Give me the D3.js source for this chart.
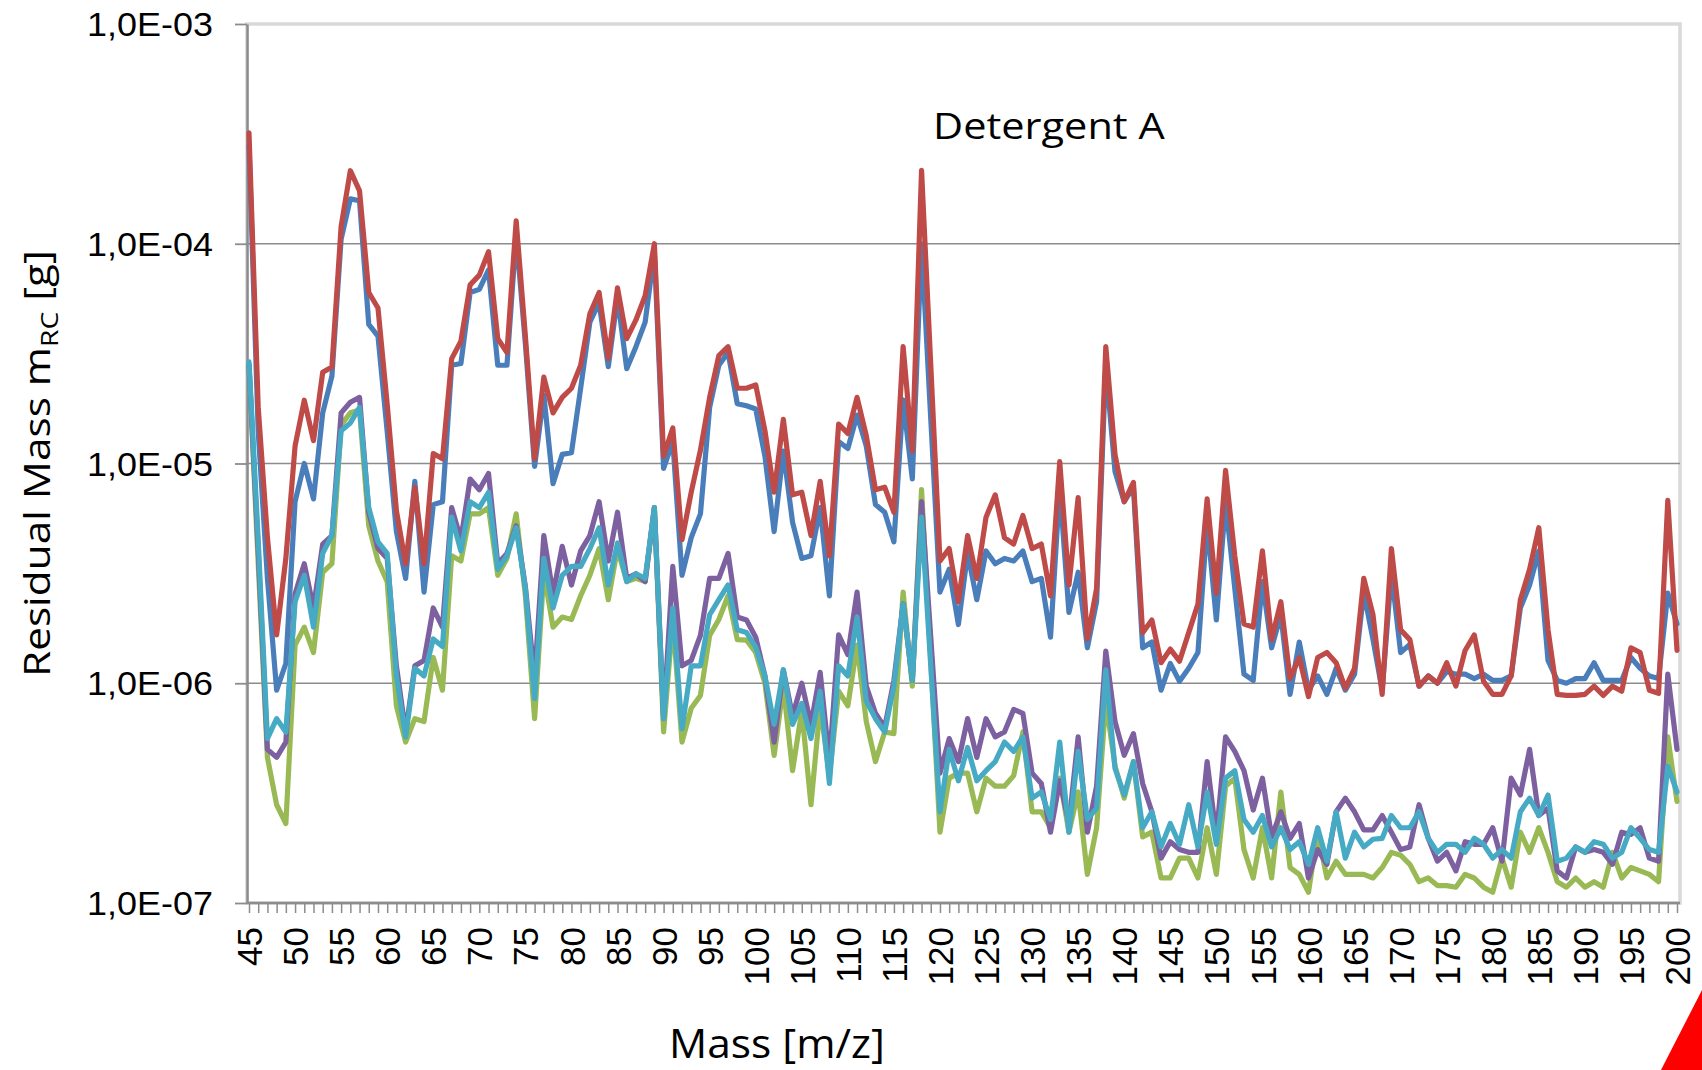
<!DOCTYPE html>
<html><head><meta charset="utf-8">
<script src="https://cdn.jsdelivr.net/npm/d3@7"></script>
<style>html,body{margin:0;padding:0;background:#fff;} svg{display:block}</style>
</head><body>
<svg id="chart" width="1702" height="1070"></svg>
<script>
// ---------------- DATA ----------------
const categories = [
 45,46,47,48,49,50,51,52,53,54, 55,56,57,58,59,60,61,62,63,64,
 65,66,67,68,69,70,71,72,73,74, 75,76,77,78,79,80,81,82,83,84,
 85,86,87,88,89,90,91,92,93,94, 95,96,97,98,99,100,101,102,103,104,
 105,106,107,108,109,110,111,112,113,114, 115,116,117,118,119,120,121,122,123,124,
 125,126,127,128,129,130,131,132,133,134, 135,136,137,138,139,140,141,142,143,144,
 145,146,147,148,149,150,151,152,153,154, 155,156,157,158,159,160,161,162,163,164,
 165,166,167,168,169,170,171,172,173,174, 175,176,177,178,179,180,181,182,183,184,
 185,186,187,188,189,190,191,192,193,194, 195,196,197,198,199,200];

const xTickLabels = [45,50,55,60,65,70,75,80,85,90,95,100,105,110,115,120,125,130,135,140,145,150,155,160,165,170,175,180,185,190,195,200];
const yTickValues = [1e-7,1e-6,1e-5,1e-4,1e-3];
const yTickLabels = ["1,0E-07","1,0E-06","1,0E-05","1,0E-04","1,0E-03"];
const gridValues = [1e-6,1e-5,1e-4];

const seriesBlue = [
 2.8e-4,1.4e-5,3.0e-6,9.3e-7,1.23e-6,6.7e-6,1.0e-5,6.9e-6,1.7e-5,2.5e-5,
 1.05e-4,1.6e-4,1.57e-4,4.3e-5,3.8e-5,1.4e-5,4.9e-6,3.0e-6,8.3e-6,2.6e-6,
 6.5e-6,6.7e-6,2.8e-5,2.85e-5,6.0e-5,6.2e-5,7.6e-5,2.8e-5,2.8e-5,1.1e-4,
 3.5e-5,9.7e-6,2.05e-5,8.1e-6,1.1e-5,1.12e-5,2.2e-5,4.4e-5,5.4e-5,2.76e-5,
 5.7e-5,2.7e-5,3.4e-5,4.4e-5,9.2e-5,9.5e-6,1.26e-5,3.1e-6,4.6e-6,5.9e-6,
 1.8e-5,2.8e-5,3.2e-5,1.87e-5,1.83e-5,1.77e-5,1.08e-5,4.9e-6,1.14e-5,5.4e-6,
 3.7e-6,3.8e-6,6.3e-6,2.5e-6,1.26e-5,1.17e-5,1.66e-5,1.2e-5,6.5e-6,6.0e-6,
 4.4e-6,1.95e-5,8.5e-6,1.0e-4,1.6e-5,2.6e-6,3.3e-6,1.85e-6,3.9e-6,2.4e-6,
 4.0e-6,3.5e-6,3.7e-6,3.6e-6,4.0e-6,2.9e-6,3.0e-6,1.62e-6,7.8e-6,2.1e-6,
 3.2e-6,1.45e-6,2.35e-6,2.8e-5,9.2e-6,6.7e-6,7.8e-6,1.45e-6,1.54e-6,9.3e-7,
 1.23e-6,1.02e-6,1.17e-6,1.38e-6,5.4e-6,1.94e-6,6.7e-6,2.7e-6,1.1e-6,1.03e-6,
 2.9e-6,1.45e-6,2.05e-6,8.9e-7,1.54e-6,9.3e-7,1.08e-6,8.9e-7,1.17e-6,9.3e-7,
 1.1e-6,2.6e-6,1.58e-6,9.3e-7,3.2e-6,1.38e-6,1.5e-6,9.7e-7,1.08e-6,1.0e-6,
 1.13e-6,1.1e-6,1.1e-6,1.05e-6,1.1e-6,1.03e-6,1.03e-6,1.08e-6,2.2e-6,2.8e-6,
 4.0e-6,1.27e-6,1.03e-6,1.0e-6,1.05e-6,1.05e-6,1.24e-6,1.03e-6,1.03e-6,1.03e-6,
 1.31e-6,1.17e-6,1.08e-6,1.05e-6,2.57e-6,1.86e-6];

const seriesRed = [
 3.2e-4,1.8e-5,4.6e-6,1.66e-6,3.7e-6,1.2e-5,1.94e-5,1.27e-5,2.6e-5,2.75e-5,
 1.2e-4,2.15e-4,1.74e-4,6.0e-5,5.1e-5,1.86e-5,6.1e-6,3.5e-6,7.8e-6,3.5e-6,
 1.11e-5,1.05e-5,3.0e-5,3.6e-5,6.5e-5,7.2e-5,9.2e-5,3.7e-5,3.2e-5,1.27e-4,
 3.8e-5,1.05e-5,2.47e-5,1.7e-5,2.0e-5,2.2e-5,2.8e-5,4.8e-5,6.0e-5,3.0e-5,
 6.3e-5,3.7e-5,4.5e-5,5.8e-5,1.0e-4,1.08e-5,1.45e-5,4.5e-6,7.4e-6,1.15e-5,
 2.0e-5,3.1e-5,3.4e-5,2.2e-5,2.2e-5,2.28e-5,1.41e-5,7.4e-6,1.59e-5,7.2e-6,
 7.4e-6,4.7e-6,8.3e-6,3.8e-6,1.51e-5,1.37e-5,2.0e-5,1.34e-5,7.6e-6,7.8e-6,
 6.0e-6,3.4e-5,1.14e-5,2.16e-4,2.8e-5,3.6e-6,4.1e-6,2.35e-6,4.7e-6,3.0e-6,
 5.7e-6,7.2e-6,4.6e-6,4.3e-6,5.8e-6,4.1e-6,4.3e-6,2.5e-6,1.02e-5,2.8e-6,
 7.0e-6,1.59e-6,2.7e-6,3.4e-5,1.1e-5,6.7e-6,8.2e-6,1.7e-6,1.94e-6,1.24e-6,
 1.43e-6,1.26e-6,1.7e-6,2.29e-6,6.9e-6,2.57e-6,9.3e-6,3.8e-6,1.86e-6,1.8e-6,
 4.0e-6,1.58e-6,2.35e-6,1.05e-6,1.31e-6,8.7e-7,1.31e-6,1.38e-6,1.24e-6,9.5e-7,
 1.17e-6,3.0e-6,2.05e-6,8.9e-7,4.1e-6,1.75e-6,1.58e-6,9.7e-7,1.08e-6,1.0e-6,
 1.24e-6,9.7e-7,1.41e-6,1.66e-6,1.02e-6,8.9e-7,8.9e-7,1.08e-6,2.4e-6,3.3e-6,
 5.1e-6,1.75e-6,8.9e-7,8.8e-7,8.8e-7,8.9e-7,9.7e-7,8.8e-7,9.7e-7,9.2e-7,
 1.45e-6,1.38e-6,9.3e-7,9.0e-7,6.8e-6,1.41e-6];

const seriesGreen = [
 2.8e-5,3.5e-6,4.6e-7,2.8e-7,2.3e-7,1.49e-6,1.8e-6,1.38e-6,3.2e-6,3.5e-6,
 1.5e-5,1.7e-5,1.75e-5,5.2e-6,3.6e-6,2.9e-6,7.9e-7,5.4e-7,6.9e-7,6.7e-7,
 1.31e-6,9.3e-7,3.8e-6,3.6e-6,5.9e-6,5.9e-6,6.3e-6,3.1e-6,3.7e-6,5.9e-6,
 2.5e-6,6.9e-7,3.2e-6,1.8e-6,2.0e-6,1.95e-6,2.5e-6,3.1e-6,4.1e-6,2.4e-6,
 4.1e-6,2.9e-6,3.0e-6,2.9e-6,6.3e-6,6.0e-7,1.95e-6,5.4e-7,7.7e-7,8.8e-7,
 1.65e-6,1.95e-6,2.5e-6,1.58e-6,1.57e-6,1.38e-6,1.0e-6,4.7e-7,9.7e-7,4.0e-7,
 7.5e-7,2.8e-7,7.9e-7,3.8e-7,9.2e-7,7.9e-7,1.49e-6,6.7e-7,4.4e-7,6.0e-7,
 5.9e-7,2.6e-6,9.7e-7,7.6e-6,1.27e-6,2.1e-7,3.7e-7,3.9e-7,3.9e-7,2.6e-7,
 3.7e-7,3.4e-7,3.4e-7,3.8e-7,6.0e-7,2.6e-7,2.6e-7,2.2e-7,3.7e-7,2.1e-7,
 3.2e-7,1.35e-7,2.2e-7,8.3e-7,4.2e-7,3.0e-7,4.4e-7,2.0e-7,2.1e-7,1.3e-7,
 1.3e-7,1.6e-7,1.6e-7,1.3e-7,2.2e-7,1.35e-7,3.4e-7,3.7e-7,1.75e-7,1.3e-7,
 2.2e-7,1.3e-7,3.2e-7,1.45e-7,1.35e-7,1.12e-7,2.1e-7,1.3e-7,1.55e-7,1.35e-7,
 1.35e-7,1.35e-7,1.3e-7,1.45e-7,1.7e-7,1.65e-7,1.5e-7,1.25e-7,1.3e-7,1.2e-7,
 1.2e-7,1.18e-7,1.35e-7,1.3e-7,1.18e-7,1.12e-7,1.6e-7,1.18e-7,2.1e-7,1.7e-7,
 2.2e-7,1.7e-7,1.25e-7,1.18e-7,1.3e-7,1.18e-7,1.25e-7,1.18e-7,1.7e-7,1.3e-7,
 1.45e-7,1.4e-7,1.35e-7,1.25e-7,5.7e-7,2.9e-7];

const seriesPurple = [
 2.8e-5,4.0e-6,5.0e-7,4.6e-7,5.4e-7,2.55e-6,3.5e-6,2.2e-6,4.3e-6,4.7e-6,
 1.7e-5,1.9e-5,2.0e-5,6.0e-6,4.1e-6,3.7e-6,1.2e-6,6.0e-7,1.2e-6,1.27e-6,
 2.2e-6,1.8e-6,6.3e-6,4.5e-6,8.5e-6,7.6e-6,9.0e-6,3.5e-6,3.9e-6,5.2e-6,
 2.75e-6,1.05e-6,4.7e-6,2.55e-6,4.2e-6,2.8e-6,4.0e-6,4.7e-6,6.7e-6,3.6e-6,
 6.0e-6,3.0e-6,3.15e-6,2.9e-6,6.3e-6,6.9e-7,3.4e-6,1.2e-6,1.27e-6,1.65e-6,
 3.0e-6,3.0e-6,3.9e-6,2.0e-6,1.94e-6,1.62e-6,1.08e-6,5.4e-7,1.15e-6,7.1e-7,
 1.0e-6,6.5e-7,1.12e-6,4.4e-7,1.66e-6,1.35e-6,2.6e-6,9.7e-7,7.3e-7,6.3e-7,
 1.03e-6,2.3e-6,1.03e-6,6.7e-6,1.62e-6,3.9e-7,5.6e-7,4.4e-7,6.9e-7,4.6e-7,
 6.9e-7,5.7e-7,6.0e-7,7.6e-7,7.3e-7,3.9e-7,3.5e-7,2.1e-7,3.6e-7,2.3e-7,
 5.7e-7,2.1e-7,3.4e-7,1.4e-6,6.7e-7,4.7e-7,5.9e-7,3.5e-7,2.6e-7,1.6e-7,
 1.9e-7,1.75e-7,1.7e-7,1.7e-7,4.4e-7,2.0e-7,5.7e-7,4.9e-7,4.0e-7,2.65e-7,
 3.7e-7,2.0e-7,2.6e-7,1.97e-7,2.3e-7,1.3e-7,1.75e-7,1.5e-7,2.6e-7,3.0e-7,
 2.6e-7,2.15e-7,2.15e-7,2.5e-7,2.1e-7,1.75e-7,1.8e-7,2.8e-7,1.97e-7,1.55e-7,
 1.7e-7,1.4e-7,1.9e-7,1.85e-7,1.85e-7,2.2e-7,1.55e-7,3.7e-7,3.1e-7,5.0e-7,
 2.5e-7,2.7e-7,1.4e-7,1.3e-7,1.8e-7,1.7e-7,1.75e-7,1.7e-7,1.5e-7,2.1e-7,
 2.05e-7,2.2e-7,1.6e-7,1.55e-7,1.1e-6,5.0e-7];

const seriesCyan = [
 2.9e-5,4.5e-6,5.6e-7,6.9e-7,6.0e-7,2.35e-6,3.1e-6,1.8e-6,3.9e-6,4.7e-6,
 1.41e-5,1.53e-5,1.8e-5,6.3e-6,4.4e-6,3.9e-6,1.08e-6,5.7e-7,1.17e-6,1.08e-6,
 1.59e-6,1.47e-6,5.7e-6,4.0e-6,6.7e-6,6.3e-6,7.4e-6,3.3e-6,3.8e-6,5.1e-6,
 2.7e-6,8.5e-7,3.7e-6,2.2e-6,3.1e-6,3.4e-6,3.4e-6,4.1e-6,5.1e-6,2.8e-6,
 4.35e-6,2.9e-6,3.15e-6,3.0e-6,6.3e-6,6.9e-7,2.2e-6,6.2e-7,1.2e-6,1.2e-6,
 2.05e-6,2.4e-6,2.8e-6,1.75e-6,1.7e-6,1.46e-6,1.08e-6,6.5e-7,1.15e-6,6.5e-7,
 8.1e-7,5.6e-7,9.2e-7,3.5e-7,1.2e-6,1.08e-6,2.0e-6,8.3e-7,6.9e-7,6.0e-7,
 9.7e-7,2.3e-6,1.03e-6,5.7e-6,1.2e-6,2.6e-7,5.0e-7,3.6e-7,5.1e-7,3.6e-7,
 4.0e-7,4.4e-7,5.4e-7,4.9e-7,5.7e-7,3.0e-7,3.2e-7,2.4e-7,5.4e-7,2.1e-7,
 4.9e-7,2.4e-7,2.7e-7,1.15e-6,4.1e-7,3.1e-7,4.4e-7,2.2e-7,2.6e-7,1.8e-7,
 2.3e-7,1.85e-7,2.8e-7,1.8e-7,3.2e-7,1.85e-7,3.7e-7,4.0e-7,2.4e-7,2.1e-7,
 2.5e-7,1.8e-7,2.2e-7,1.75e-7,1.9e-7,1.5e-7,2.2e-7,1.55e-7,2.6e-7,1.6e-7,
 2.1e-7,1.8e-7,1.95e-7,1.97e-7,2.5e-7,2.2e-7,2.2e-7,2.6e-7,1.97e-7,1.7e-7,
 1.85e-7,1.85e-7,1.7e-7,1.97e-7,1.85e-7,1.6e-7,1.75e-7,1.6e-7,2.6e-7,3.0e-7,
 2.5e-7,3.1e-7,1.55e-7,1.6e-7,1.8e-7,1.7e-7,1.9e-7,1.85e-7,1.6e-7,1.7e-7,
 2.2e-7,1.97e-7,1.75e-7,1.7e-7,4.2e-7,3.2e-7];

const seriesList = [seriesBlue, seriesRed, seriesGreen, seriesPurple, seriesCyan];
const seriesColors = ["#4A7EBB", "#BE4B48", "#98B954", "#7D60A0", "#46AAC5"];

const titleText = "Detergent A";
const xAxisTitle = "Mass [m/z]";

// ---------------- DRAW ----------------
const svg = d3.select("#chart");
svg.append("rect").attr("width", 1702).attr("height", 1070).attr("fill", "#fff");

const plot = {left: 247, right: 1680, top: 24, bottom: 903};
const x = d3.scaleLinear().domain([45, 200]).range([249, 1677]);
const y = d3.scaleLog().domain([1e-7, 1e-3]).range([plot.bottom, plot.top]);

// plot area border (light)
svg.append("rect")
  .attr("x", plot.left).attr("y", plot.top)
  .attr("width", plot.right - plot.left).attr("height", plot.bottom - plot.top)
  .attr("fill", "none").attr("stroke", "#D9D9D9").attr("stroke-width", 3.5);

// gridlines
svg.append("g").selectAll("line").data(gridValues).join("line")
  .attr("x1", plot.left).attr("x2", plot.right)
  .attr("y1", d => y(d)).attr("y2", d => y(d))
  .attr("stroke", "#8C8C8C").attr("stroke-width", 1.6);

// y axis
const yAxis = svg.append("g").attr("transform", `translate(${plot.left},0)`)
  .call(d3.axisLeft(y).tickValues(yTickValues)
        .tickFormat((d, i) => yTickLabels[i]).tickSize(12).tickSizeOuter(0));
yAxis.select(".domain").attr("stroke", "#8C8C8C").attr("stroke-width", 2.5);
yAxis.selectAll(".tick line").attr("stroke", "#8C8C8C").attr("stroke-width", 1.8);
yAxis.selectAll(".tick text")
  .attr("x", 0).attr("dy", "0.35em")
  .style("font-family", "'Liberation Sans', Arial, sans-serif")
  .style("font-size", "33px").attr("fill", "#000")
  .style("text-anchor", "end")
  .each(function () {
    const w = this.getBBox().width;
    d3.select(this).attr("transform", `translate(-34,0) scale(${126 / w},1)`);
  });

// x axis
const labelSet = new Set(xTickLabels);
const xAxis = svg.append("g").attr("transform", `translate(0,${plot.bottom})`)
  .call(d3.axisBottom(x).tickValues(categories)
        .tickFormat(d => labelSet.has(d) ? String(d) : "").tickSize(10).tickSizeOuter(0));
xAxis.select(".domain").attr("stroke", "#8C8C8C").attr("stroke-width", 2.5)
  .attr("d", `M${plot.left},0H${plot.right}`);
xAxis.selectAll(".tick line").attr("stroke", "#8C8C8C").attr("stroke-width", 1.5);
xAxis.selectAll(".tick text")
  .attr("transform", "rotate(-90)")
  .attr("x", -24).attr("y", 0).attr("dy", "0.36em")
  .style("text-anchor", "end")
  .style("font-family", "'Liberation Sans', Arial, sans-serif")
  .style("font-size", "35px").attr("fill", "#000");

// series lines
const line = d3.line().x((d, i) => x(categories[i])).y(d => y(d));
svg.append("g").selectAll("path").data(seriesList).join("path")
  .attr("d", d => line(d))
  .attr("fill", "none")
  .attr("stroke", (d, i) => seriesColors[i])
  .attr("stroke-width", 5.2)
  .attr("stroke-linejoin", "round")
  .attr("stroke-linecap", "round");

// helper to place stretched text
function stretchedText(parent, transformBase, targetW, build) {
  const g = parent.append("g").attr("transform", transformBase);
  const t = g.append("text").attr("x", 0).attr("y", 0)
    .style("font-family", "'Open Sans', 'Noto Sans', sans-serif").attr("fill", "#000");
  build(t);
  const w = t.node().getBBox().width;
  t.attr("transform", `scale(${targetW / w},1)`);
  return t;
}

// title
stretchedText(svg, "translate(933,139)", 232, t => t.style("font-size", "36px").text(titleText));

// x axis title
stretchedText(svg, "translate(669,1058)", 216, t => t.style("font-size", "40px").text(xAxisTitle));

// y axis title with subscript
stretchedText(svg, "translate(50,677) rotate(-90)", 427, t => {
  t.style("font-size", "36px");
  t.append("tspan").text("Residual Mass m");
  t.append("tspan").attr("dy", 8).style("font-size", "24px").text("RC");
  t.append("tspan").attr("dy", -8).text(" [g]");
});

// red corner triangle decoration
svg.append("path").attr("d", "M1661,1070L1702,990L1702,1070Z").attr("fill", "#FF0000");
</script>
</body></html>
